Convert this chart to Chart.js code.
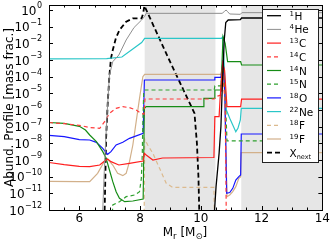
<!DOCTYPE html>
<html>
<head>
<meta charset="utf-8">
<script src="https://cdn.jsdelivr.net/npm/chart.js@4/dist/chart.umd.min.js"></script>
<style>
  html, body { margin: 0; padding: 0; background: #fff; }
  #wrap { width: 332px; height: 246px; }
</style>
</head>
<body>
<div id="wrap"><canvas id="myChart" width="332" height="246"></canvas></div>
<script>
// abundance profiles, each point is [M_r in Msun, log10 of mass fraction]
const h1 = [[10.43,-13],[10.45,-12],[10.5,-10.6],[10.6,-8.6],[10.66,-7.0],[10.71,-4.4],[10.77,-1.8],[10.82,-0.75],[10.9,-0.6],[11.3,-0.58],[11.34,-0.48],[14,-0.48]];
const he4 = [[6.74,-13],[6.77,-12],[6.82,-9.7],[6.87,-7.7],[6.93,-5.7],[6.99,-3.9],[7.1,-3.1],[7.3,-2.7],[7.54,-1.8],[7.8,-1.05],[8.05,-0.6],[8.15,-0.38],[8.2,-0.2],[10.7,-0.2],[10.78,-0.08],[10.83,0.0],[10.88,-0.1],[10.95,-0.24],[11.3,-0.26],[11.35,-0.16],[14,-0.16]];
const c13 = [[5,-9.15],[5.5,-9.28],[6,-9.38],[6.34,-9.4],[6.67,-9.3],[6.83,-9.06],[6.93,-8.94],[7.04,-9.1],[7.3,-9.3],[7.65,-9.2],[8.1,-9.06],[8.14,-8.6],[8.2,-8.7],[8.42,-9.0],[8.74,-8.88],[10.43,-8.85],[10.46,-6.4],[10.6,-6.4],[10.63,-5.4],[10.72,-3.2],[10.78,-3.6],[10.86,-5.8],[11.31,-5.8],[11.34,-5.35],[14,-5.35]];
const c14 = [[5,-6.75],[5.5,-6.82],[6,-6.92],[6.34,-7.05],[6.67,-7.1],[6.83,-6.7],[6.99,-6.2],[7.21,-5.9],[7.43,-5.8],[7.65,-5.86],[7.87,-6.0],[8.03,-6.2],[8.13,-6.25],[8.16,-5.34],[10.44,-5.34],[10.5,-5.2],[10.66,-5.1],[10.72,-3.8],[10.8,-5.5],[10.84,-13]];
const n14 = [[5,-6.75],[5.5,-6.8],[6,-6.98],[6.2,-7.2],[6.34,-7.5],[6.56,-7.9],[6.77,-8.5],[6.88,-8.9],[6.99,-9.6],[7.1,-10.3],[7.21,-10.9],[7.32,-11.3],[7.49,-11.5],[7.76,-11.46],[8.1,-11.34],[8.14,-5.9],[8.2,-5.8],[10.08,-5.8],[10.1,-5.3],[10.44,-5.3],[10.46,-4.8],[10.66,-4.8],[10.73,-1.6],[10.8,-2.0],[10.88,-3.1],[11.31,-3.1],[11.34,-3.3],[14,-3.3]];
const n15 = [[7.06,-13],[7.1,-11.7],[7.32,-11.5],[7.54,-11.2],[7.82,-11.1],[7.98,-10.9],[8.04,-10.1],[8.07,-8.7],[8.09,-6.7],[8.12,-4.86],[8.16,-4.8],[10.44,-4.8],[10.46,-4.55],[10.66,-4.55],[10.73,-3.5],[10.8,-5.0],[10.86,-7.85],[14,-7.85]];
const o18 = [[5,-7.52],[5.5,-7.6],[6,-7.78],[6.34,-7.8],[6.56,-7.94],[6.77,-8.3],[6.93,-8.66],[7.04,-8.5],[7.21,-8.1],[7.43,-7.94],[7.65,-7.7],[8.1,-7.4],[8.14,-4.2],[10.44,-4.2],[10.46,-4.04],[10.66,-4.04],[10.73,-3.0],[10.79,-5.0],[10.85,-11.0],[10.95,-10.95],[11.05,-10.7],[11.15,-10.2],[11.25,-10.0],[11.31,-9.9],[11.33,-7.44],[14,-7.44]];
const ne22 = [[5,-2.93],[6.9,-2.92],[7.4,-2.82],[8.05,-1.95],[8.15,-1.7],[10.68,-1.7],[10.72,-1.6],[10.8,-4.5],[10.84,-6.0],[10.95,-6.5],[11.05,-6.9],[11.15,-7.3],[11.22,-7.1],[11.3,-6.6],[11.33,-5.9],[14,-5.9]];
const f18 = [[8.13,-13],[8.15,-7.75],[8.25,-8.1],[8.42,-8.6],[8.64,-9.5],[8.86,-10.4],[9.07,-10.64],[10.43,-10.64],[10.45,-13]];
const f19 = [[5,-10.28],[6,-10.3],[6.34,-10.3],[6.6,-9.8],[6.83,-9.06],[6.93,-8.94],[7.1,-9.3],[7.26,-9.8],[7.43,-9.94],[7.54,-9.8],[7.65,-9.1],[7.76,-8.1],[7.87,-6.7],[7.98,-5.3],[8.09,-4.0],[8.15,-3.86],[10.66,-3.86],[10.72,-3.2],[10.78,-5.0],[10.86,-11.2],[10.95,-11.1],[11.05,-10.9],[11.15,-10.6],[11.25,-10.1],[11.31,-10.0],[11.33,-8.56],[14,-8.56]];
const xnext = [[6.82,-13],[6.85,-10.5],[6.88,-7.7],[6.93,-5.7],[6.99,-3.9],[7.04,-2.9],[7.1,-2.4],[7.2,-1.7],[7.32,-1.2],[7.54,-0.7],[7.76,-0.5],[8.05,-0.5],[8.1,-0.2],[8.14,0.25],[8.96,-3.0],[9.79,-6.2],[9.87,-8.0],[9.92,-10],[9.96,-13]];

// convective zones (grey bands), in Msun
const convZones = [[8.15, 10.48], [11.33, 14]];

// legend text pieces
const supText = ["1", "4", "13", "14", "14", "15", "18", "22", "18", "19", ""];
const baseText = ["H", "He", "C", "C", "N", "N", "O", "Ne", "F", "F", "X"];
const subText = ["", "", "", "", "", "", "", "", "", "", "next"];

// y tick exponents
const yTickExps = [0, -1, -2, -3, -4, -5, -6, -7, -8, -9, -10, -11, -12];
const xLabelTicks = [6, 8, 10, 12, 14];

const FONT = "'DejaVu Sans', sans-serif";

function toPoints(arr) {
  return arr.map(p => ({ x: p[0], y: Math.pow(10, p[1]) }));
}

function ds(data, color, width, dash) {
  return {
    data: toPoints(data),
    borderColor: color,
    borderWidth: width,
    borderDash: dash || [],
    pointRadius: 0,
    tension: 0,
    fill: false,
  };
}

const datasets = [
  ds(h1, "#000000", 1.3),
  ds(he4, "#8f8f8f", 1.0),
  ds(c13, "#ff1e1e", 1.2),
  ds(c14, "#ff3c3c", 1.2, [4, 3]),
  ds(n14, "#168c16", 1.2),
  ds(n15, "#2ea02e", 1.2, [4, 3]),
  ds(o18, "#1616ff", 1.2),
  ds(ne22, "#2ac6c8", 1.2),
  ds(f18, "#dcba8e", 1.2, [4, 3]),
  ds(f19, "#d2b08a", 1.2),
  ds(xnext, "#000000", 1.8, [5, 3]),
];

const framePlugin = {
  id: "frame",
  beforeDatasetsDraw(chart) {
    const { ctx, chartArea: a, scales: { x } } = chart;
    ctx.save();
    ctx.fillStyle = "#e6e6e6";
    convZones.forEach(z => {
      const x1 = x.getPixelForValue(z[0]);
      const x2 = x.getPixelForValue(z[1]);
      ctx.fillRect(x1, a.top, x2 - x1, a.bottom - a.top);
    });
    ctx.restore();
  },
  afterDatasetsDraw(chart) {
    const { ctx, chartArea: a, scales: { x, y } } = chart;
    ctx.save();
    ctx.strokeStyle = "#000";
    ctx.lineWidth = 1;
    ctx.setLineDash([]);

    // inward ticks
    ctx.beginPath();
    yTickExps.forEach(e => {
      const py = Math.round(y.getPixelForValue(Math.pow(10, e))) + 0.5;
      ctx.moveTo(a.left, py); ctx.lineTo(a.left + 4, py);
      ctx.moveTo(a.right, py); ctx.lineTo(a.right - 4, py);
    });
    x.ticks.forEach(t => {
      const px = Math.round(x.getPixelForValue(t.value)) + 0.5;
      const len = t.value % 2 === 0 ? 4 : 2.5;
      ctx.moveTo(px, a.bottom); ctx.lineTo(px, a.bottom - len);
      ctx.moveTo(px, a.top); ctx.lineTo(px, a.top + len);
    });
    ctx.stroke();

    ctx.strokeRect(Math.round(a.left) + 0.5, Math.round(a.top) + 0.5,
      Math.round(a.right - a.left), Math.round(a.bottom - a.top));

    // y tick labels 10^n
    ctx.fillStyle = "#000";
    ctx.textBaseline = "middle";
    yTickExps.forEach(e => {
      const py = y.getPixelForValue(Math.pow(10, e));
      const ex = e === 0 ? "0" : "\u2212" + String(-e);
      ctx.font = "8px " + FONT;
      ctx.textAlign = "right";
      const right = 42;
      const w = ctx.measureText(ex).width;
      ctx.fillText(ex, right, py - 4);
      ctx.font = "12px " + FONT;
      ctx.fillText("10", right - w - 0.5, py + 1.5);
    });

    // y title
    ctx.save();
    ctx.translate(10, (a.top + a.bottom) / 2);
    ctx.rotate(-Math.PI / 2);
    ctx.textAlign = "center";
    ctx.font = "12px " + FONT;
    ctx.fillText("Abund. Profile [mass frac.]", 0, 0);
    ctx.restore();

    // x title  M_r [M_sun]
    const parts = [
      ["M", 12, 0], ["r", 8.5, 3], [" [M", 12, 0], ["\u2299", 8.5, 3], ["]", 12, 0],
    ];
    ctx.textAlign = "left";
    ctx.textBaseline = "alphabetic";
    let total = 0;
    parts.forEach(p => { ctx.font = p[1] + "px " + FONT; total += ctx.measureText(p[0]).width; });
    let cx = 185 - total / 2;
    parts.forEach(p => {
      ctx.font = p[1] + "px " + FONT;
      ctx.fillText(p[0], cx, 235.5 + p[2]);
      cx += ctx.measureText(p[0]).width;
    });

    // legend
    const lx = 262.5, ly = 9.5, lw = 56, lh = 153;
    ctx.fillStyle = "#fff";
    ctx.fillRect(lx, ly, lw, lh);
    ctx.strokeStyle = "#222";
    ctx.lineWidth = 1;
    ctx.strokeRect(lx, ly, lw, lh);
    chart.data.datasets.forEach((d, i) => {
      const ry = 15.7 + 13.7 * i;
      ctx.beginPath();
      ctx.strokeStyle = d.borderColor;
      ctx.lineWidth = d.borderWidth;
      ctx.setLineDash(d.borderDash);
      ctx.moveTo(267, ry); ctx.lineTo(281, ry);
      ctx.stroke();
      ctx.setLineDash([]);
      ctx.fillStyle = "#000";
      ctx.textBaseline = "alphabetic";
      let tx = 289.5;
      if (supText[i]) {
        ctx.font = "7px " + FONT;
        ctx.fillText(supText[i], tx, ry);
        tx += ctx.measureText(supText[i]).width + 0.5;
      }
      ctx.font = "10.5px " + FONT;
      ctx.fillText(baseText[i], tx, ry + 4);
      tx += ctx.measureText(baseText[i]).width;
      if (subText[i]) {
        ctx.font = "6.5px " + FONT;
        ctx.fillText(subText[i], tx, ry + 6);
      }
    });
    ctx.restore();
  },
};

const ctx = document.getElementById("myChart").getContext("2d");
new Chart(ctx, {
  type: "line",
  data: { datasets },
  options: {
    responsive: false,
    animation: false,
    layout: { padding: { top: 5, right: 9, left: 0, bottom: 0 } },
    plugins: { legend: { display: false }, tooltip: { enabled: false } },
    scales: {
      x: {
        type: "linear",
        min: 5,
        max: 14,
        afterFit: s => { s.height = 36; },
        grid: { display: false, drawTicks: false },
        border: { display: false },
        ticks: {
          stepSize: 0.5,
          autoSkip: false,
          maxRotation: 0,
          padding: 2,
          color: "#000",
          font: { family: FONT, size: 12 },
          callback: v => (xLabelTicks.includes(v) ? String(v) : ""),
        },
      },
      y: {
        type: "logarithmic",
        min: 1e-12,
        max: 1.995,
        afterFit: s => { s.width = 49; },
        grid: { display: false },
        border: { display: false },
        ticks: { display: false },
      },
    },
  },
  plugins: [framePlugin],
});
</script>
</body>
</html>
